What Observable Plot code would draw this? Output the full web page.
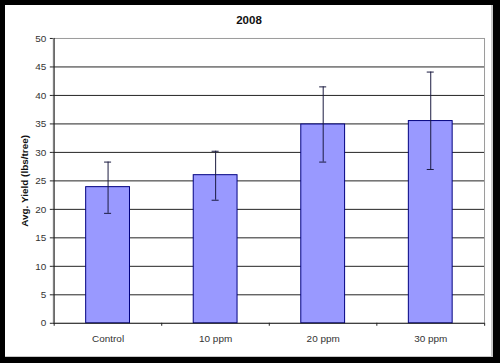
<!DOCTYPE html>
<html>
<head>
<meta charset="utf-8">
<script src="https://cdn.jsdelivr.net/npm/d3@7"></script>
<script src="https://cdn.jsdelivr.net/npm/@observablehq/plot@0.6"></script>
<style>
  html, body { margin: 0; padding: 0; background: #000; }
  #page { position: relative; width: 500px; height: 363px; background: #000; overflow: hidden; }
  #frame { position: absolute; left: 5px; top: 5px; width: 488px; height: 352px; background: #fff;
           box-sizing: border-box; border-right: 2px solid #c8c8c8; border-bottom: 1px solid #c8c8c8; }
  #title { position: absolute; left: 0; top: 9px; width: 488px; text-align: center;
           font: bold 11.5px "Liberation Sans", Arial, sans-serif; color: #111; }
  #chart { position: absolute; left: 0; top: 25px; }
  #chart svg { display: block; }
</style>
</head>
<body>
<div id="page"><div id="frame"><div id="title">2008</div><div id="chart"></div></div></div>
<script>
const categories = ["Control", "10 ppm", "20 ppm", "30 ppm"];
const yieldMeans = [23.9, 26.0, 34.9, 35.5];
const errLow = [19.3, 21.6, 28.3, 27.0];
const errHigh = [28.3, 30.2, 41.5, 44.1];
const yTicks = [0, 5, 10, 15, 20, 25, 30, 35, 40, 45, 50];
const gridTicks = [5, 10, 15, 20, 25, 30, 35, 40, 45];
const yLabel = "Avg. Yield (lbs/tree)";

const data = categories.map((c, i) => ({cat: c, v: yieldMeans[i], lo: errLow[i], hi: errHigh[i]}));

const width = 488, height = 327;
const ml = 48, mr = 7, mt = 8, mb = 33;
const pInner = 0.594, pOuter = 0.297;
const step = (width - ml - mr) / (categories.length - pInner + 2 * pOuter);
const bw = step * (1 - pInner);
const capW = 7;
const font = "'Liberation Sans', Arial, sans-serif";

const chart = Plot.plot({
  width, height,
  marginLeft: ml, marginRight: mr, marginTop: mt, marginBottom: mb,
  style: {fontFamily: font, fontSize: "10px", color: "#333", background: "transparent"},
  x: {domain: categories, paddingInner: pInner, paddingOuter: pOuter, label: null},
  y: {domain: [0, 50], label: null},
  marks: [
    Plot.frame({stroke: "#9a9a9a"}),
    Plot.ruleY(gridTicks, {stroke: "#222", strokeWidth: 1}),
    Plot.barY(data, {x: "cat", y: "v", fill: "#9999ff", stroke: "#000080", strokeWidth: 1}),
    Plot.ruleX(data, {x: "cat", y1: "lo", y2: "hi", stroke: "#1a1a40", strokeWidth: 1}),
    Plot.tickY(data, {x: "cat", y: "hi", stroke: "#1a1a40", insetLeft: (bw - capW) / 2, insetRight: (bw - capW) / 2}),
    Plot.tickY(data, {x: "cat", y: "lo", stroke: "#1a1a40", insetLeft: (bw - capW) / 2, insetRight: (bw - capW) / 2}),
    Plot.ruleY([0], {stroke: "#222"}),
    Plot.ruleX([categories[0]], {y1: 0, y2: 50, dx: -step / 2, stroke: "#222"}),
    Plot.ruleX(categories, {y1: 0, y2: 0, dx: -step / 2, insetBottom: -3, stroke: "#222"}),
    Plot.ruleX([categories[categories.length - 1]], {y1: 0, y2: 0, dx: step / 2, insetBottom: -3, stroke: "#222"}),
    Plot.axisY({ticks: yTicks, tickSize: 3, tickPadding: 4, tickFormat: d => String(d), label: null, fill: "#333", stroke: "#222"}),
    Plot.axisX({tickSize: 0, tickPadding: 12, label: null, fill: "#333"}),
    Plot.text([yLabel], {frameAnchor: "left", rotate: -90, dx: -29, textAnchor: "middle",
                         fontWeight: "bold", fontSize: 10, fill: "#111"})
  ]
});
document.getElementById("chart").appendChild(chart);
</script>
</body>
</html>
